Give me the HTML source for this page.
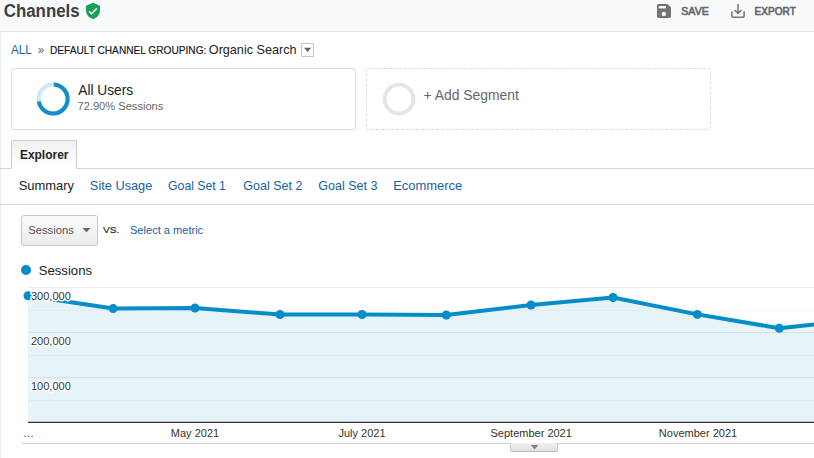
<!DOCTYPE html>
<html>
<head>
<meta charset="utf-8">
<style>
html,body{margin:0;padding:0;}
body{width:814px;height:458px;overflow:hidden;background:#fff;font-family:"Liberation Sans",sans-serif;color:#222;position:relative;}
.abs{position:absolute;white-space:nowrap;}
.tx{transform-origin:0 0;}
#hdr{left:0;top:0;width:814px;height:31px;background:#f8f9fa;border-bottom:1px solid #e5e6e7;}
#seg1{left:11px;top:68px;width:343px;height:60px;border:1px solid #dcdcdc;border-radius:3px;background:#fff;}
#seg2{left:366px;top:68px;width:343px;height:60px;border:1px dashed #dadada;border-radius:3px;background:#fff;}
#tabline{left:0;top:168px;width:814px;height:1px;background:#d4d4d4;}
#tab{left:11px;top:140px;width:64px;height:27px;border:1px solid #cbcbcb;border-bottom:1px solid #fff;border-radius:2px 2px 0 0;background:linear-gradient(#f1f1f1,#fff);}
#subline{left:0;top:204px;width:814px;height:1px;background:#d9d9d9;}
#sel{left:21px;top:215px;width:75px;height:29px;border:1px solid #c8c8c8;border-radius:3px;background:linear-gradient(#fbfbfb,#ebebeb);}
</style>
</head>
<body>
<div id="hdr" class="abs"></div>
<svg class="abs" style="left:85px;top:2px" width="16" height="18" viewBox="0 0 16 18"><path d="M8 0.8 L14.5 3.5 Q15 3.75 15 4.3 V8.2 C15 12.4 12.2 15.9 8 17.1 C3.8 15.9 1 12.4 1 8.2 V4.3 Q1 3.75 1.5 3.5 Z" fill="#18a058"/><path d="M4.3 9.4 L6.6 11.7 L11.9 6.3" fill="none" stroke="#fff" stroke-width="1.5"/></svg>

<svg class="abs" style="left:656px;top:3px" width="16" height="16" viewBox="0 0 16 16"><path d="M2.4 1 H11.4 L15 4.6 V13.6 a1.4 1.4 0 0 1 -1.4 1.4 H2.4 a1.4 1.4 0 0 1 -1.4 -1.4 V2.4 a1.4 1.4 0 0 1 1.4 -1.4 Z" fill="#737373"/><rect x="2.8" y="3" width="7.2" height="2.4" fill="#f8f9fa"/><circle cx="7.9" cy="10.9" r="2.2" fill="#f8f9fa"/></svg>
<svg class="abs" style="left:730px;top:3px" width="16" height="16" viewBox="0 0 16 16"><path d="M1.9 8.2 V13.2 Q1.9 14.2 2.9 14.2 H13.1 Q14.1 14.2 14.1 13.2 V8.2" fill="none" stroke="#757575" stroke-width="1.5"/><path d="M8 1 V10.2 M4.6 7 L8 10.4 L11.4 7" fill="none" stroke="#757575" stroke-width="1.5"/></svg>

<div class="abs" style="left:0;top:32px;width:1px;height:426px;background:#e9ebee"></div>

<div class="abs" style="left:301px;top:43px;width:11px;height:12px;border:1px solid #c6c6c6;background:#fff;"></div>
<svg class="abs" style="left:304px;top:47px" width="8" height="6"><path d="M0 0.8 H7.2 L3.6 5 Z" fill="#606060"/></svg>

<div id="seg1" class="abs"></div>
<svg class="abs" style="left:35px;top:81px" width="36" height="36" viewBox="0 0 36 36"><g transform="translate(18.1 18)"><circle r="14.5" fill="none" stroke="#cfe7f4" stroke-width="4.1"/><circle r="14.5" fill="none" stroke="#0f8eca" stroke-width="4.1" stroke-dasharray="66.42 24.69" transform="rotate(-90)"/><path d="M0 0 V-18 M0 0 L-17.8 2.4" stroke="#fff" stroke-width="1"/></g></svg>

<div id="seg2" class="abs"></div>
<svg class="abs" style="left:381px;top:81px" width="36" height="36" viewBox="0 0 36 36"><circle cx="18" cy="18" r="14.4" fill="none" stroke="#e5e5e5" stroke-width="3.9"/></svg>

<div id="tabline" class="abs"></div>
<div id="tab" class="abs"></div>
<div id="subline" class="abs"></div>

<div id="sel" class="abs"></div>
<svg class="abs" style="left:82px;top:228px" width="9" height="5"><path d="M0.5 0 H8.5 L4.5 4.3 Z" fill="#666"/></svg>

<div class="abs" style="left:21px;top:265px;width:10px;height:10px;border-radius:5px;background:#058dc7;"></div>

<div id="t_title" class="abs tx" style="left:3px;top:-1.00px;font-size:18px;line-height:24px;font-weight:bold;color:#3c4043;transform-origin:0 18px;transform:translateX(0.74px) scale(0.9371,1);">Channels</div>
<div id="t_save" class="abs tx" style="left:681px;top:3.00px;font-size:11px;line-height:16px;font-weight:normal;color:#5f6368;transform-origin:0 12px;transform:translateX(0.26px) scale(0.9652,1);-webkit-text-stroke:0.6px #5f6368">SAVE</div>
<div id="t_export" class="abs tx" style="left:754px;top:3.00px;font-size:11px;line-height:16px;font-weight:normal;color:#5f6368;transform-origin:0 12px;transform:translateX(0.62px) scale(0.9143,1);-webkit-text-stroke:0.6px #5f6368">EXPORT</div>
<div id="t_all" class="abs tx" style="left:11px;top:41.00px;font-size:12px;line-height:18px;font-weight:normal;color:#1562a6;transform-origin:0 13px;transform:translateX(0.06px) scale(0.9685,1);">ALL</div>
<div id="t_raq" class="abs tx" style="left:38px;top:41.00px;font-size:12.5px;line-height:18px;font-weight:normal;color:#555;transform-origin:0 13px;transform:translateX(0.07px) scale(0.8606,1);">»</div>
<div id="t_dcg" class="abs tx" style="left:49px;top:42.00px;font-size:10.5px;line-height:16px;font-weight:normal;color:#151515;transform-origin:0 12px;transform:translateX(0.97px) scale(0.9655,1);-webkit-text-stroke:0.15px #151515">DEFAULT CHANNEL GROUPING:</div>
<div id="t_os" class="abs tx" style="left:208px;top:40.00px;font-size:13px;line-height:19px;font-weight:normal;color:#222;transform-origin:0 14px;transform:translateX(0.82px) scale(0.9706,1);">Organic Search</div>
<div id="t_allusers" class="abs tx" style="left:78px;top:80.00px;font-size:14px;line-height:20px;font-weight:normal;color:#222;transform-origin:0 15px;transform:translateX(0.28px) scale(0.9803,1);">All Users</div>
<div id="t_pct" class="abs tx" style="left:77px;top:98.00px;font-size:11px;line-height:16px;font-weight:normal;color:#666;transform-origin:0 12px;transform:translateX(0.49px) scale(1.0102,1);">72.90% Sessions</div>
<div id="t_addseg" class="abs tx" style="left:423px;top:85.00px;font-size:14px;line-height:20px;font-weight:normal;color:#666;transform-origin:0 15px;transform:translateX(0.61px) scale(0.9914,1);">+ Add Segment</div>
<div id="t_explorer" class="abs tx" style="left:19px;top:146.00px;font-size:12px;line-height:18px;font-weight:bold;color:#222;transform-origin:0 13px;transform:translateX(0.89px) scale(0.9978,1);">Explorer</div>
<div id="t_summary" class="abs tx" style="left:18px;top:176.00px;font-size:13px;line-height:19px;font-weight:normal;color:#222;transform-origin:0 14px;transform:translateX(0.64px) scale(0.9954,1);">Summary</div>
<div id="t_siteusage" class="abs tx" style="left:89px;top:176.00px;font-size:13px;line-height:19px;font-weight:normal;color:#1562a6;transform-origin:0 14px;transform:translateX(0.87px) scale(0.9818,1);">Site Usage</div>
<div id="t_gs1" class="abs tx" style="left:168px;top:176.00px;font-size:13px;line-height:19px;font-weight:normal;color:#1562a6;transform-origin:0 14px;transform:translateX(0.05px) scale(0.9417,1);">Goal Set 1</div>
<div id="t_gs2" class="abs tx" style="left:243px;top:176.00px;font-size:13px;line-height:19px;font-weight:normal;color:#1562a6;transform-origin:0 14px;transform:translateX(0.26px) scale(0.9620,1);">Goal Set 2</div>
<div id="t_gs3" class="abs tx" style="left:318px;top:176.00px;font-size:13px;line-height:19px;font-weight:normal;color:#1562a6;transform-origin:0 14px;transform:translateX(0.24px) scale(0.9657,1);">Goal Set 3</div>
<div id="t_ecom" class="abs tx" style="left:393px;top:176.00px;font-size:13px;line-height:19px;font-weight:normal;color:#1562a6;transform-origin:0 14px;transform:translateX(0.22px) scale(0.9958,1);">Ecommerce</div>
<div id="t_selsess" class="abs tx" style="left:28px;top:222.00px;font-size:11px;line-height:16px;font-weight:normal;color:#555;transform-origin:0 12px;transform:translateX(0.23px) scale(1.0202,1);">Sessions</div>
<div id="t_vs" class="abs tx" style="left:103px;top:222.00px;font-size:9.7px;line-height:15px;font-weight:normal;color:#222;transform-origin:0 11px;transform:translateX(0.09px) scale(1.0455,1);-webkit-text-stroke:0.15px #222">VS.</div>
<div id="t_selmetric" class="abs tx" style="left:129px;top:222.00px;font-size:11px;line-height:16px;font-weight:normal;color:#1562a6;transform-origin:0 12px;transform:translateX(0.99px) scale(1.0054,1);">Select a metric</div>
<div id="t_legsess" class="abs tx" style="left:38px;top:261.00px;font-size:13px;line-height:19px;font-weight:normal;color:#222;transform-origin:0 14px;transform:translateX(0.73px) scale(1.0103,1);">Sessions</div>

<svg class="abs" style="left:0;top:280px" width="814" height="178" viewBox="0 280 814 178">
  <g stroke-width="1">
    <line x1="28" y1="287.5" x2="814" y2="287.5" stroke="#eaeaea"/>
    <line x1="28" y1="332.5" x2="814" y2="332.5" stroke="#eaeaea"/>
    <line x1="28" y1="377.5" x2="814" y2="377.5" stroke="#eaeaea"/>
    <line x1="28" y1="310.5" x2="814" y2="310.5" stroke="#f8f8f8"/>
    <line x1="28" y1="355.5" x2="814" y2="355.5" stroke="#f8f8f8"/>
    <line x1="28" y1="400.5" x2="814" y2="400.5" stroke="#f8f8f8"/>
  </g>
  <path d="M28 295.8 L113.2 308.6 L195 308 L280 314.5 L362 314.5 L446.3 315 L531 305 L613 297.5 L697.4 314.4 L779.3 328.2 L814 324.6 V422 H28 Z" fill="#058dc7" fill-opacity="0.1"/>
  <path d="M28 295.8 L113.2 308.6 L195 308 L280 314.5 L362 314.5 L446.3 315 L531 305 L613 297.5 L697.4 314.4 L779.3 328.2 L814 324.6" fill="none" stroke="#058dc7" stroke-width="4" stroke-linejoin="round"/>
  <g fill="#058dc7">
    <circle cx="28" cy="295.8" r="4.5"/><circle cx="113.2" cy="308.6" r="4.5"/><circle cx="195" cy="308" r="4.5"/><circle cx="280" cy="314.5" r="4.5"/><circle cx="362" cy="314.5" r="4.5"/><circle cx="446.3" cy="315" r="4.5"/><circle cx="531" cy="305" r="4.5"/><circle cx="613" cy="297.5" r="4.5"/><circle cx="697.4" cy="314.4" r="4.5"/><circle cx="779.3" cy="328.2" r="4.5"/>
  </g>
  <rect x="28" y="421.75" width="786" height="1.25" fill="#333"/>
  <g font-family="Liberation Sans, sans-serif" font-size="11" fill="#333" stroke="#fff" stroke-width="3" paint-order="stroke" stroke-linejoin="round">
    <text x="31" y="300">300,000</text>
    <text x="31" y="345">200,000</text>
    <text x="31" y="390">100,000</text>
  </g>
  <g font-family="Liberation Sans, sans-serif" font-size="11" fill="#333" text-anchor="middle">
    <text x="28.5" y="437">…</text>
    <text x="195" y="437">May 2021</text>
    <text x="362" y="437">July 2021</text>
    <text x="531.2" y="437">September 2021</text>
    <text x="698" y="437">November 2021</text>
  </g>
</svg>
<div class="abs" style="left:22px;top:443px;width:792px;height:1px;background:#cfcfcf;"></div>
<div class="abs" style="left:510px;top:443px;width:46px;height:8px;border:1px solid #cacaca;border-top:none;border-bottom-color:#bdbdbd;border-radius:0 0 2px 2px;background:linear-gradient(#f0f0f0,#e0e0e0);"></div>
<svg class="abs" style="left:530px;top:445px" width="9" height="5"><path d="M0.7 0 H8.5 L4.6 4.5 Z" fill="#808080"/></svg>
</body>
</html>
